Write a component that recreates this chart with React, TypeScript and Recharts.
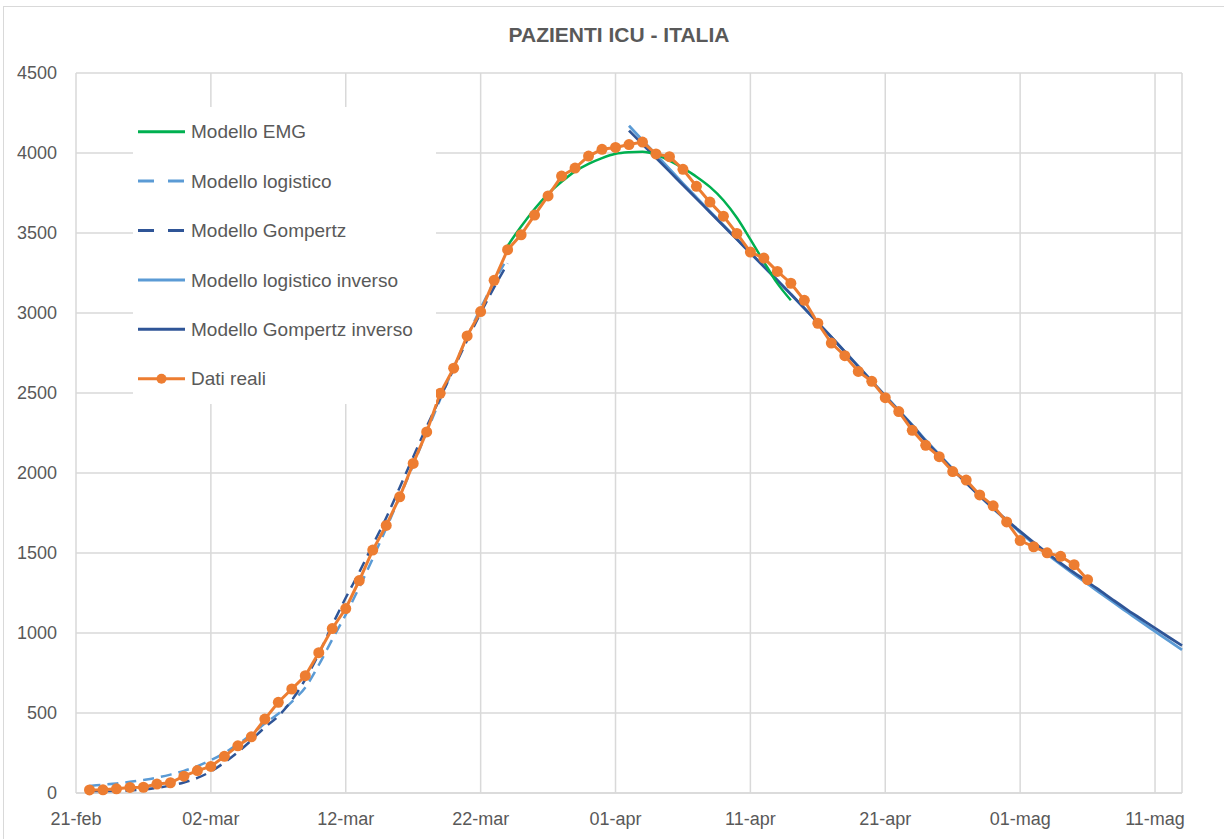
import { LineChart, Line, XAxis, YAxis, CartesianGrid, Legend } from "recharts";

// x axis is in days since 21-feb (2020)
const xTickDays = [0, 10, 20, 30, 40, 50, 60, 70, 80];
const xTickLabels = ["21-feb", "02-mar", "12-mar", "22-mar", "01-apr", "11-apr", "21-apr", "01-mag", "11-mag"];
const yTicks = [0, 500, 1000, 1500, 2000, 2500, 3000, 3500, 4000, 4500];
const lastDay = 82;

// Dati reali: 22-feb .. 06-mag
const realStart = 1;
const datiReali = [
  19, 20, 26, 35, 36, 56, 64, 105, 140, 166, 229, 295, 351, 462, 567, 650, 733, 877, 1028, 1153,
  1328, 1518, 1672, 1851, 2060, 2257, 2498, 2655, 2857, 3009, 3204, 3396, 3489, 3612, 3732, 3856,
  3906, 3981, 4023, 4035, 4053, 4068, 3994, 3977, 3898, 3792, 3693, 3605, 3497, 3381, 3343, 3260,
  3186, 3079, 2936, 2812, 2733, 2635, 2573, 2471, 2384, 2267, 2173, 2102, 2009, 1956, 1863, 1795,
  1694, 1578, 1539, 1501, 1479, 1427, 1333,
];

// Modello EMG: 24-mar .. 14-apr
const emgStart = 32;
const modelloEMG = [
  3420, 3540, 3650, 3745, 3820, 3885, 3932, 3968, 3995, 4005, 4008, 3990, 3952, 3905, 3852, 3788,
  3705, 3595, 3460, 3320, 3185, 3080,
];

// Modello logistico: 22-feb .. 24-mar
const logStart = 1;
const modelloLogistico = [
  44, 52, 60, 70, 82, 96, 115, 138, 168, 205, 250, 305, 365, 435, 495, 570, 660, 800, 960, 1115,
  1285, 1465, 1655, 1850, 2050, 2255, 2460, 2660, 2850, 3030, 3195, 3345,
];

// Modello Gompertz: 22-feb .. 24-mar
const gompStart = 1;
const modelloGompertz = [
  4, 6, 10, 15, 22, 32, 46, 66, 94, 135, 190, 255, 330, 410, 480, 580, 710, 870, 1050, 1220, 1380,
  1550, 1720, 1910, 2100, 2290, 2470, 2650, 2830, 3000, 3160, 3310,
];

// Modelli inversi: 02-apr .. 13-mag
const invStart = 41;
const modelloLogisticoInverso = [
  4170, 4080, 3990, 3900, 3810, 3722, 3635, 3548, 3462, 3376, 3290, 3204, 3117, 3029, 2940, 2850,
  2759, 2667, 2575, 2483, 2392, 2301, 2205, 2115, 2026, 1940, 1857, 1778, 1702, 1629, 1559, 1492,
  1428, 1366, 1307, 1246, 1186, 1127, 1068, 1010, 952, 895,
];
const modelloGompertzInverso = [
  4140, 4055, 3970, 3885, 3800, 3715, 3630, 3545, 3460, 3375, 3290, 3205, 3118, 3030, 2940, 2850,
  2758, 2665, 2572, 2480, 2388, 2297, 2200, 2110, 2022, 1938, 1857, 1780, 1706, 1635, 1566, 1500,
  1437, 1377, 1320, 1260, 1200, 1142, 1086, 1030, 975, 921,
];

const FONT = '"Liberation Sans", Arial, sans-serif';
const TEXT = "#595959";
const GRID = "#d9d9d9";

const C_EMG = "#00B050";
const C_LOG = "#5B9BD5";
const C_GOMP = "#2F5597";
const C_REAL = "#ED7D31";

function pick(arr: number[], start: number, day: number) {
  const i = day - start;
  return i >= 0 && i < arr.length ? arr[i] : null;
}

const data = Array.from({ length: lastDay + 1 }, (_, day) => ({
  day,
  emg: pick(modelloEMG, emgStart, day),
  log: pick(modelloLogistico, logStart, day),
  gomp: pick(modelloGompertz, gompStart, day),
  logInv: pick(modelloLogisticoInverso, invStart, day),
  gompInv: pick(modelloGompertzInverso, invStart, day),
  real: pick(datiReali, realStart, day),
}));

const legendItems = [
  { label: "Modello EMG", color: C_EMG, dash: undefined, dot: false },
  { label: "Modello logistico", color: C_LOG, dash: "16 14", dot: false },
  { label: "Modello Gompertz", color: C_GOMP, dash: "16 14", dot: false },
  { label: "Modello logistico inverso", color: C_LOG, dash: undefined, dot: false },
  { label: "Modello Gompertz inverso", color: C_GOMP, dash: undefined, dot: false },
  { label: "Dati reali", color: C_REAL, dash: undefined, dot: true },
];

function LegendBox() {
  return (
    <svg width={303} height={297} style={{ background: "#fff", display: "block" }}>
      {legendItems.map((it, i) => {
        const cy = 24.7 + i * 49.4;
        return (
          <g key={it.label}>
            <line x1={5} x2={52} y1={cy} y2={cy} stroke={it.color} strokeWidth={3} strokeDasharray={it.dash} />
            {it.dot && <circle cx={28.5} cy={cy} r={5} fill={it.color} />}
            <text x={58} y={cy} dy="0.35em" fontSize={19} fill={TEXT} fontFamily={FONT}>
              {it.label}
            </text>
          </g>
        );
      })}
    </svg>
  );
}

export default function App() {
  return (
    <div style={{ position: "absolute", left: 0, top: 0, width: 1224, height: 839, overflow: "hidden", background: "#fff" }}>
      <div style={{ position: "absolute", left: 3, top: 6, width: 1240, height: 860, border: `1px solid ${GRID}` }} />
      <div
        style={{
          position: "absolute", left: 0, top: 23, width: 1238, textAlign: "center",
          fontFamily: FONT, fontWeight: "bold", fontSize: 21, color: TEXT,
        }}
      >
        PAZIENTI ICU - ITALIA
      </div>
      <div style={{ position: "absolute", left: 0, top: 0 }}>
        <LineChart width={1224} height={839} data={data} margin={{ top: 73, right: 42, bottom: 16, left: 16 }}>
          <CartesianGrid stroke={GRID} strokeWidth={1.5} />
          <XAxis
            dataKey="day"
            type="number"
            domain={[0, lastDay]}
            ticks={xTickDays}
            interval={0}
            tickFormatter={(d: number) => xTickLabels[xTickDays.indexOf(d)]}
            axisLine={{ stroke: GRID, strokeWidth: 1.5 }}
            tickLine={false}
            tickSize={0}
            tickMargin={19}
            height={30}
            tick={{ fill: TEXT, fontSize: 18, fontFamily: FONT }}
          />
          <YAxis
            domain={[0, 4500]}
            ticks={yTicks}
            interval={0}
            axisLine={false}
            tickLine={false}
            tickSize={0}
            tickMargin={19}
            width={60}
            tick={{ fill: TEXT, fontSize: 18, fontFamily: FONT }}
          />
          <Legend
            layout="horizontal"
            verticalAlign="middle"
            align="center"
            wrapperStyle={{ left: 133, top: 107, width: 303, height: 297 }}
            content={() => <LegendBox />}
          />
          <Line dataKey="log" type="monotone" stroke={C_LOG} strokeWidth={2.5} strokeDasharray="11 7" dot={false} isAnimationActive={false} />
          <Line dataKey="gomp" type="monotone" stroke={C_GOMP} strokeWidth={2.5} strokeDasharray="11 7" dot={false} isAnimationActive={false} />
          <Line dataKey="logInv" type="monotone" stroke={C_LOG} strokeWidth={2.75} dot={false} isAnimationActive={false} />
          <Line dataKey="gompInv" type="monotone" stroke={C_GOMP} strokeWidth={2.75} dot={false} isAnimationActive={false} />
          <Line dataKey="emg" type="monotone" stroke={C_EMG} strokeWidth={2.5} dot={false} isAnimationActive={false} />
          <Line
            dataKey="real"
            type="linear"
            stroke={C_REAL}
            strokeWidth={3}
            dot={{ r: 5.5, fill: C_REAL, stroke: C_REAL, strokeWidth: 0 }}
            isAnimationActive={false}
          />
        </LineChart>
      </div>
    </div>
  );
}
